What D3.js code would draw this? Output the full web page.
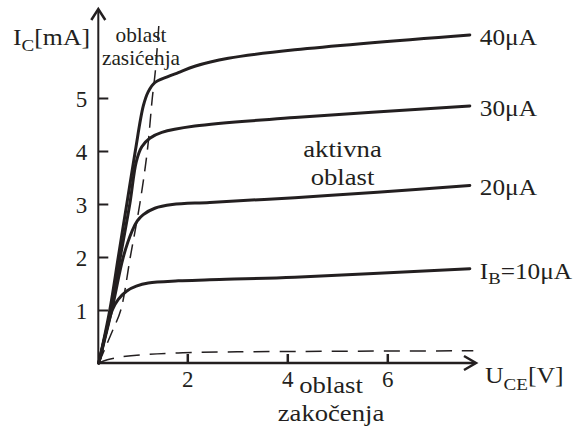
<!DOCTYPE html>
<html><head><meta charset="utf-8">
<script src="https://cdn.jsdelivr.net/npm/d3@7"></script>
<style>
body{margin:0;background:#fff}
text{font-family:"Liberation Serif","Times New Roman",serif;fill:#231f20}
</style>
</head><body>
<svg id="c" width="573" height="430"></svg>
<script>
// ---- data ----
const xTicks = [2, 4, 6];
const yTicks = [1, 2, 3, 4, 5];
const seriesNames = ["40", "30", "20", "10"];
const ib40 = [[0.23,0],[0.45,1],[0.62,2],[0.79,3],[0.96,4],[1.12,4.85],[1.22,5.12],[1.35,5.29],[1.6,5.4],[1.82,5.48],[2.15,5.6],[2.82,5.75],[4.15,5.91],[7.65,6.19]];
const ib30 = [[0.23,0],[0.47,1],[0.66,2],[0.85,3],[0.98,3.8],[1.09,4.08],[1.25,4.24],[1.49,4.35],[2.15,4.47],[4.15,4.63],[7.65,4.85]];
const ib20 = [[0.23,0],[0.49,1],[0.72,2],[0.9,2.5],[1.0,2.68],[1.12,2.8],[1.35,2.92],[1.7,2.99],[2.45,3.03],[4.15,3.12],[5.8,3.22],[7.65,3.35]];
const ib10 = [[0.23,0],[0.38,0.6],[0.5,1.0],[0.62,1.2],[0.79,1.36],[0.98,1.45],[1.22,1.51],[1.82,1.55],[2.45,1.57],[4.15,1.62],[7.65,1.78]];
const saturation = [[0.23,0],[0.5,0.6],[0.67,1.0],[0.86,2.0],[1.05,3.0],[1.2,4.0],[1.3,5.0],[1.36,5.5],[1.44,6.5]];
const cutoff = [[0.23,0],[0.4,0.06],[0.65,0.11],[1.15,0.16],[1.82,0.19],[3,0.21],[7.72,0.23]];

// ---- drawing ----
const svg = d3.select("#c");
const ink = "#231f20";
const x = d3.scaleLinear().domain([0, 8]).range([87.3, 487.3]);
const y = d3.scaleLinear().domain([0, 6]).range([363, 45]);
const x0 = x(0.22), y0 = y(0);
const fs = 23;

// axes lines + arrows
svg.append("line").attr("x1", x0).attr("y1", y0).attr("x2", x0).attr("y2", 10)
  .attr("stroke", ink).attr("stroke-width", 2);
svg.append("path").attr("d", `M${x0-7},${20} L${x0},${9} L${x0+7},${20}`)
  .attr("fill", "none").attr("stroke", ink).attr("stroke-width", 2.5);
svg.append("line").attr("x1", x0-1).attr("y1", y0).attr("x2", 475).attr("y2", y0)
  .attr("stroke", ink).attr("stroke-width", 2.5);
svg.append("path").attr("d", `M${464},${y0-7} L${476},${y0} L${464},${y0+7}`)
  .attr("fill", "none").attr("stroke", ink).attr("stroke-width", 2.5);

// y axis ticks
const gy = svg.append("g").attr("transform", `translate(${x0},0)`)
  .call(d3.axisLeft(y).tickValues(yTicks).tickFormat(d3.format("d"))
    .tickSizeInner(-10).tickSizeOuter(0).tickPadding(11));
gy.select(".domain").remove();
gy.selectAll(".tick line").attr("stroke", ink).attr("stroke-width", 2);
gy.selectAll(".tick text").attr("font-size", fs).attr("font-family", "Liberation Serif").attr("fill", ink).attr("dy", "0.36em");

// x axis ticks
const gx = svg.append("g").attr("transform", `translate(0,${y0})`)
  .call(d3.axisBottom(x).tickValues(xTicks).tickFormat(d3.format("d"))
    .tickSizeInner(-9).tickSizeOuter(0).tickPadding(8));
gx.select(".domain").remove();
gx.selectAll(".tick line").attr("stroke", ink).attr("stroke-width", 2.5);
gx.selectAll(".tick text").attr("font-size", fs).attr("font-family", "Liberation Serif").attr("fill", ink);

const line = d3.line().x(d => x(d[0])).y(d => y(d[1])).curve(d3.curveCatmullRom.alpha(0.5));

// dashed boundaries
svg.append("path").attr("d", line(saturation)).attr("fill", "none")
  .attr("stroke", ink).attr("stroke-width", 1.5).attr("stroke-dasharray", "14 8");
svg.append("path").attr("d", line(cutoff)).attr("fill", "none")
  .attr("stroke", ink).attr("stroke-width", 1.5).attr("stroke-dasharray", "16 10");

// characteristic curves
const curves = [ib40, ib30, ib20, ib10];
svg.selectAll(".ch").data(curves).enter().append("path").attr("class", "ch")
  .attr("d", d => line(d)).attr("fill", "none").attr("stroke", ink)
  .attr("stroke-width", 3).attr("stroke-linejoin", "round").attr("stroke-linecap", "round");

// text helper with horizontal stretch
function txt(px, py, sx, size, anchor) {
  return svg.append("text").attr("transform", `translate(${px},${py}) scale(${sx},1)`)
    .attr("x", 0).attr("y", 0).attr("font-size", size).attr("font-family", "Liberation Serif")
    .attr("text-anchor", anchor || "start");
}

// series labels
curves.forEach((c, i) => {
  const end = c[c.length - 1];
  const t = txt(x(end[0]) + 10, y(end[1]) + 10, 1.1, fs);
  if (i === curves.length - 1) {
    t.append("tspan").text("I");
    t.append("tspan").attr("font-size", 17).attr("dy", 5).text("B");
    t.append("tspan").attr("dy", -5).text("=" + seriesNames[i] + "μA");
  } else {
    t.text(seriesNames[i] + "μA");
  }
});

// axis titles
const yt = txt(13, 45, 1.12, fs);
yt.append("tspan").text("I");
yt.append("tspan").attr("font-size", 17).attr("dy", 6).text("C");
yt.append("tspan").attr("dy", -6).text("[mA]");

const xt = txt(485, 383, 1.12, fs);
xt.append("tspan").text("U");
xt.append("tspan").attr("font-size", 17).attr("dy", 7).text("CE");
xt.append("tspan").attr("dy", -7).text("[V]");

// region labels
function label(lines, cx, by, lh, sx, size) {
  lines.forEach((s, i) => txt(cx, by + i * lh, sx, size, "middle").text(s));
}
label(["oblast", "zasićenja"], 141, 42, 23, 0.97, 22);
label(["aktivna", "oblast"], 342.5, 157, 28, 1.16, fs);
label(["oblast", "zakočenja"], 331, 393, 28, 1.16, fs);
</script>
</body></html>
